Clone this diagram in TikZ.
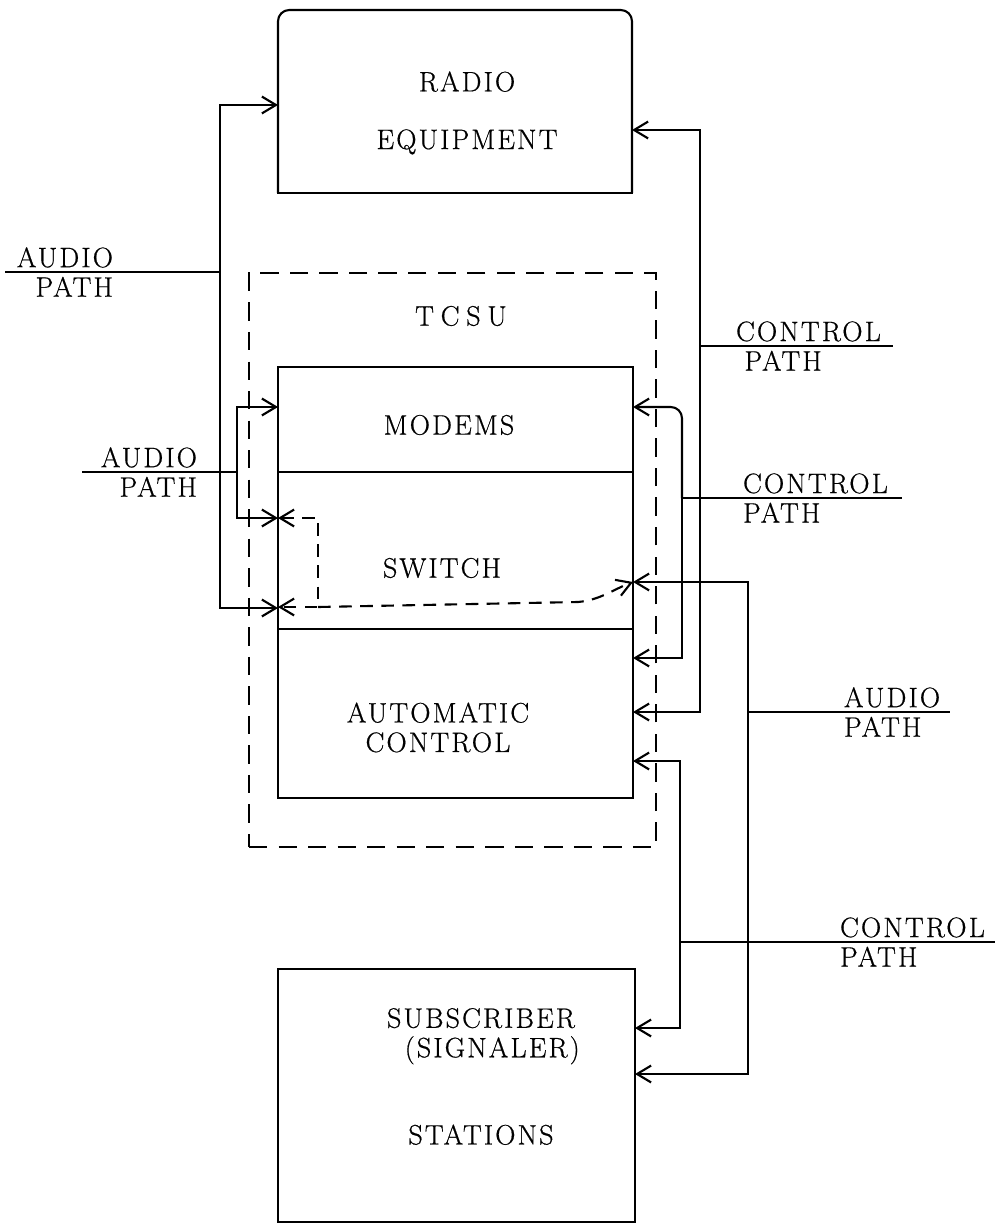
\documentclass[tikz,border=0pt]{standalone}
\usepackage{fontspec}
\newfontfamily\diagfont{Latin Modern Roman}[LetterSpace=7.5,FakeBold=0.6]
\usetikzlibrary{arrows.meta}
\newcommand{\pxu}{0.025cm}
\tikzset{>={Straight Barb[length=10pt,width=12pt]}}
\tikzset{
  txt/.style = {
    font={\diagfont\fontsize{20}{21}\selectfont},
    inner sep=0pt
  },
  blockbox/.style = {draw, inner sep=0pt, outer sep=0pt, minimum width=355*\pxu},
  unitbox/.style = {draw, dash pattern=on 13pt off 8pt, inner sep=0pt, outer sep=0pt},
  swlink/.style = {dash pattern=on 9pt off 6pt}
}

\begin{document}
\begin{tikzpicture}[x=\pxu,y=-\pxu,line width=1.5pt]
  \useasboundingbox (0,0) rectangle (995,1227);
  % blocks
  \node[blockbox,draw=none,minimum width=354*\pxu,minimum height=183*\pxu] (radio) at (455,101.5) {};
  \draw[rounded corners=8pt] (radio.south west) -- (radio.north west) -- (radio.north east) -- (radio.south east);
  \draw[line cap=rect] (radio.south west) -- (radio.south east);
  \node[txt,align=center] (radiotext) at (467,113) {RADIO\\[20pt]EQUIPMENT};

  \node[unitbox,minimum width=407*\pxu,minimum height=574*\pxu] (tcsu) at (452.5,560) {};
  \node[txt] (tcsutext) at (461,316) {T\hspace{0.24em}C\hspace{0.24em}S\hspace{0.24em}U};
  \node[blockbox,minimum height=105*\pxu] (modems) at (455.5,419.5) {};
  \node[blockbox,minimum height=157*\pxu] (switch) at (455.5,550.5) {};
  \node[blockbox,minimum height=169*\pxu] (autoctl) at (455.5,713.5) {};
  \node[txt] (modemstext) at (449,425) {MODEMS};
  \node[txt] (switchtext) at (442,568) {SWITCH};
  \node[txt,align=center] (autotext) at (438,727.5) {AUTOMATIC\\CONTROL};

  \node[blockbox,minimum width=357*\pxu,minimum height=253*\pxu] (sub) at (456.5,1095.5) {};
  \node[txt,align=center] (subtext) at (481,1076.5) {SUBSCRIBER\\\hspace*{0.8em}(SIGNALER)\\[41pt]STATIONS};

  % left audio paths
  \coordinate (aud1) at (5,272);
  \coordinate (aud1j) at (220,272);
  \draw (aud1) -- (aud1j);
  \draw[->] (aud1j) |- (radio.west |- 0,105);
  \draw[->] (aud1j) |- (switch.west |- 0,608);
  \node[txt,align=right,anchor=east] (aud1text) at (114,272) {AUDIO\\PATH};

  \coordinate (aud2) at (82,472);
  \coordinate (aud2j) at (237,472);
  \draw (aud2) -- (aud2j);
  \draw[->] (aud2j) |- (modems.west |- 0,407);
  \draw[->] (aud2j) |- (switch.west |- 0,518);
  \node[txt,align=right,anchor=east] (aud2text) at (198,472) {AUDIO\\PATH};

  % switch connection
  \coordinate (swa) at (318,518);
  \coordinate (swb) at (318,607);
  \draw[swlink,<->] (switch.west |- swa) -- (swa) -- (swb) -- (switch.west |- swb);
  \draw[swlink,->] (swb) -- (578,602) .. controls (600,600) and (612,590) .. (switch.east |- 0,582);

  % right control and audio paths
  \coordinate (ctl1j) at (700,346);
  \coordinate (ctl1) at (893,346);
  \draw (ctl1j) -- (ctl1);
  \draw[->] (ctl1j) |- (radio.east |- 0,130);
  \draw[->] (ctl1j) |- (autoctl.east |- 0,712);
  \node[txt,align=left,anchor=west] (ctl1text) at (735,346) {CONTROL\\\hspace*{0.3em}PATH};

  \coordinate (ctl2j) at (682,498);
  \coordinate (ctl2) at (902,498);
  \draw (ctl2j) -- (ctl2);
  \draw[->,rounded corners=8pt] (ctl2j) |- (modems.east |- 0,407);
  \draw[->] (ctl2j) |- (autoctl.east |- 0,658);
  \node[txt,align=left,anchor=west] (ctl2text) at (742,498) {CONTROL\\PATH};

  \coordinate (aud3j) at (748,712);
  \coordinate (aud3) at (950,712);
  \draw (aud3j) -- (aud3);
  \draw[->] (aud3j) |- (switch.east |- 0,582);
  \draw[->] (aud3j) |- (sub.east |- 0,1074);
  \node[txt,align=left,anchor=west] (aud3text) at (843,712) {AUDIO\\PATH};

  \coordinate (ctl3j) at (680,942);
  \coordinate (ctl3) at (995,942);
  \draw (ctl3j) -- (ctl3);
  \draw[->] (ctl3j) |- (autoctl.east |- 0,761);
  \draw[->] (ctl3j) |- (sub.east |- 0,1028);
  \node[txt,align=left,anchor=west] (ctl3text) at (839,942) {CONTROL\\PATH};
\end{tikzpicture}
\end{document}
